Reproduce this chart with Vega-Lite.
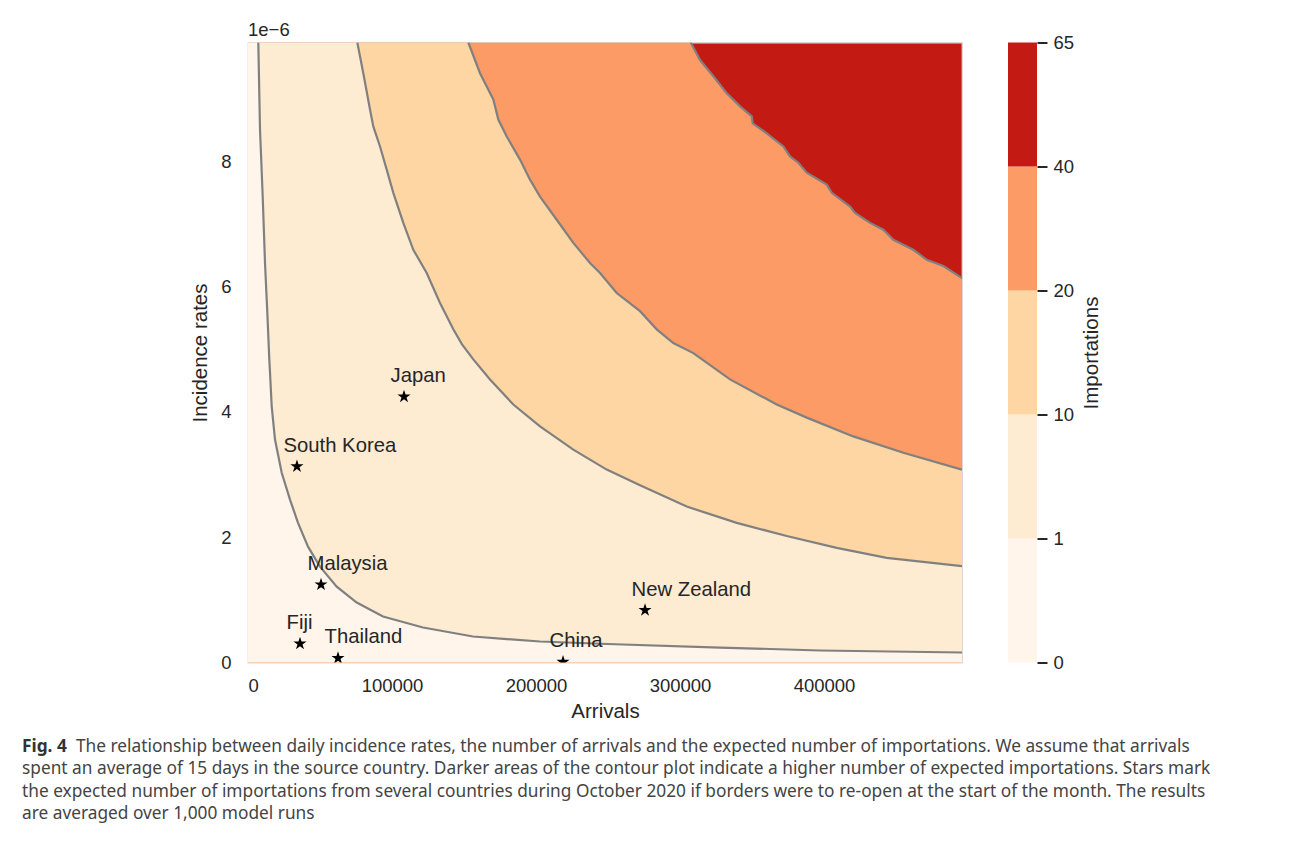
{
  "$schema": "https://vega.github.io/schema/vega-lite/v6.json",
  "padding": {"left": 22, "top": 19.5, "right": 5, "bottom": 5},
  "background": "white",
  "config": {
    "font": "Liberation Sans",
    "view": {"stroke": null},
    "axis": {
      "labelColor": "#262626", "titleColor": "#262626",
      "labelFont": "Liberation Sans", "titleFont": "Liberation Sans",
      "labelFontSize": 18.5, "titleFontSize": 20.5, "titleFontWeight": "normal",
      "grid": false, "domain": false, "ticks": false
    }
  },
  "title": {
    "text": "Fig. 4",
    "subtitle": [
      "spent an average of 15 days in the source country. Darker areas of the contour plot indicate a higher number of expected importations. Stars mark",
      "the expected number of importations from several countries during October 2020 if borders were to re-open at the start of the month. The results",
      "are averaged over 1,000 model runs"
    ],
    "orient": "bottom", "anchor": "start", "frame": "group",
    "font": "Noto Sans", "fontSize": 17.3, "fontWeight": "bold", "color": "#333333",
    "subtitleFont": "Noto Sans", "subtitleFontSize": 17.3, "subtitleFontWeight": "normal", "subtitleColor": "#444444",
    "subtitleLineHeight": 22.5, "subtitlePadding": 5.2, "offset": -17.3, "dx": -226, "limit": 1300
  },
  "datasets": {
    "contours": [
      {"level": 1, "part": "corner", "x": 0, "y": 9.9e-6},
      {"level": 1, "part": "curve", "x": 7150, "y": 9.9e-6},
      {"level": 1, "part": "curve", "x": 8333, "y": 8.51e-6},
      {"level": 1, "part": "curve", "x": 10208, "y": 7.44e-6},
      {"level": 1, "part": "curve", "x": 11806, "y": 6.38e-6},
      {"level": 1, "part": "curve", "x": 13403, "y": 5.59e-6},
      {"level": 1, "part": "curve", "x": 14792, "y": 4.84e-6},
      {"level": 1, "part": "curve", "x": 15278, "y": 4.63e-6},
      {"level": 1, "part": "curve", "x": 16458, "y": 4.09e-6},
      {"level": 1, "part": "curve", "x": 18750, "y": 3.56e-6},
      {"level": 1, "part": "curve", "x": 23403, "y": 3.03e-6},
      {"level": 1, "part": "curve", "x": 29167, "y": 2.60e-6},
      {"level": 1, "part": "curve", "x": 34722, "y": 2.23e-6},
      {"level": 1, "part": "curve", "x": 41667, "y": 1.85e-6},
      {"level": 1, "part": "curve", "x": 50000, "y": 1.53e-6},
      {"level": 1, "part": "curve", "x": 61597, "y": 1.21e-6},
      {"level": 1, "part": "curve", "x": 75486, "y": 0.958e-6},
      {"level": 1, "part": "curve", "x": 93750, "y": 0.734e-6},
      {"level": 1, "part": "curve", "x": 121528, "y": 0.559e-6},
      {"level": 1, "part": "curve", "x": 156250, "y": 0.415e-6},
      {"level": 1, "part": "curve", "x": 202778, "y": 0.335e-6},
      {"level": 1, "part": "curve", "x": 249306, "y": 0.295e-6},
      {"level": 1, "part": "curve", "x": 327778, "y": 0.239e-6},
      {"level": 1, "part": "curve", "x": 397222, "y": 0.192e-6},
      {"level": 1, "part": "curve", "x": 495800, "y": 0.160e-6},

      {"level": 10, "part": "corner", "x": 0, "y": 9.9e-6},
      {"level": 10, "part": "curve", "x": 75903, "y": 9.9e-6},
      {"level": 10, "part": "curve", "x": 80069, "y": 9.41e-6},
      {"level": 10, "part": "curve", "x": 84722, "y": 8.83e-6},
      {"level": 10, "part": "curve", "x": 87014, "y": 8.56e-6},
      {"level": 10, "part": "curve", "x": 91667, "y": 8.24e-6},
      {"level": 10, "part": "curve", "x": 96319, "y": 7.87e-6},
      {"level": 10, "part": "curve", "x": 100903, "y": 7.50e-6},
      {"level": 10, "part": "curve", "x": 107847, "y": 7.02e-6},
      {"level": 10, "part": "curve", "x": 114792, "y": 6.59e-6},
      {"level": 10, "part": "curve", "x": 124097, "y": 6.22e-6},
      {"level": 10, "part": "curve", "x": 133333, "y": 5.74e-6},
      {"level": 10, "part": "curve", "x": 142569, "y": 5.32e-6},
      {"level": 10, "part": "curve", "x": 148611, "y": 5.08e-6},
      {"level": 10, "part": "curve", "x": 156458, "y": 4.84e-6},
      {"level": 10, "part": "curve", "x": 168056, "y": 4.52e-6},
      {"level": 10, "part": "curve", "x": 184236, "y": 4.12e-6},
      {"level": 10, "part": "curve", "x": 202778, "y": 3.77e-6},
      {"level": 10, "part": "curve", "x": 225903, "y": 3.40e-6},
      {"level": 10, "part": "curve", "x": 249097, "y": 3.08e-6},
      {"level": 10, "part": "curve", "x": 272222, "y": 2.83e-6},
      {"level": 10, "part": "curve", "x": 304653, "y": 2.49e-6},
      {"level": 10, "part": "curve", "x": 339375, "y": 2.23e-6},
      {"level": 10, "part": "curve", "x": 374097, "y": 2.02e-6},
      {"level": 10, "part": "curve", "x": 408819, "y": 1.83e-6},
      {"level": 10, "part": "curve", "x": 443542, "y": 1.67e-6},
      {"level": 10, "part": "curve", "x": 495800, "y": 1.54e-6},

      {"level": 20, "part": "corner", "x": 0, "y": 9.9e-6},
      {"level": 20, "part": "curve", "x": 152986, "y": 9.9e-6},
      {"level": 20, "part": "curve", "x": 161111, "y": 9.41e-6},
      {"level": 20, "part": "curve", "x": 170347, "y": 8.99e-6},
      {"level": 20, "part": "curve", "x": 173819, "y": 8.67e-6},
      {"level": 20, "part": "curve", "x": 179653, "y": 8.40e-6},
      {"level": 20, "part": "curve", "x": 188889, "y": 8.03e-6},
      {"level": 20, "part": "curve", "x": 195833, "y": 7.71e-6},
      {"level": 20, "part": "curve", "x": 202778, "y": 7.44e-6},
      {"level": 20, "part": "curve", "x": 214375, "y": 7.07e-6},
      {"level": 20, "part": "curve", "x": 225903, "y": 6.70e-6},
      {"level": 20, "part": "curve", "x": 237500, "y": 6.38e-6},
      {"level": 20, "part": "curve", "x": 244444, "y": 6.22e-6},
      {"level": 20, "part": "curve", "x": 256042, "y": 5.90e-6},
      {"level": 20, "part": "curve", "x": 272222, "y": 5.61e-6},
      {"level": 20, "part": "curve", "x": 283819, "y": 5.32e-6},
      {"level": 20, "part": "curve", "x": 295347, "y": 5.10e-6},
      {"level": 20, "part": "curve", "x": 309236, "y": 4.94e-6},
      {"level": 20, "part": "curve", "x": 334722, "y": 4.52e-6},
      {"level": 20, "part": "curve", "x": 367153, "y": 4.12e-6},
      {"level": 20, "part": "curve", "x": 387986, "y": 3.91e-6},
      {"level": 20, "part": "curve", "x": 420347, "y": 3.61e-6},
      {"level": 20, "part": "curve", "x": 455069, "y": 3.35e-6},
      {"level": 20, "part": "curve", "x": 495800, "y": 3.08e-6},

      {"level": 40, "part": "corner", "x": 0, "y": 9.9e-6},
      {"level": 40, "part": "curve", "x": 307431, "y": 9.9e-6},
      {"level": 40, "part": "curve", "x": 313889, "y": 9.62e-6},
      {"level": 40, "part": "curve", "x": 323125, "y": 9.36e-6},
      {"level": 40, "part": "curve", "x": 332431, "y": 9.09e-6},
      {"level": 40, "part": "curve", "x": 341667, "y": 8.88e-6},
      {"level": 40, "part": "curve", "x": 349792, "y": 8.72e-6},
      {"level": 40, "part": "curve", "x": 350500, "y": 8.61e-6},
      {"level": 40, "part": "curve", "x": 360208, "y": 8.45e-6},
      {"level": 40, "part": "curve", "x": 371736, "y": 8.24e-6},
      {"level": 40, "part": "curve", "x": 376389, "y": 8.08e-6},
      {"level": 40, "part": "curve", "x": 382153, "y": 7.98e-6},
      {"level": 40, "part": "curve", "x": 387986, "y": 7.82e-6},
      {"level": 40, "part": "curve", "x": 401875, "y": 7.63e-6},
      {"level": 40, "part": "curve", "x": 405347, "y": 7.50e-6},
      {"level": 40, "part": "curve", "x": 418056, "y": 7.28e-6},
      {"level": 40, "part": "curve", "x": 421528, "y": 7.18e-6},
      {"level": 40, "part": "curve", "x": 431944, "y": 7.02e-6},
      {"level": 40, "part": "curve", "x": 441181, "y": 6.91e-6},
      {"level": 40, "part": "curve", "x": 448125, "y": 6.75e-6},
      {"level": 40, "part": "curve", "x": 462014, "y": 6.59e-6},
      {"level": 40, "part": "curve", "x": 471319, "y": 6.43e-6},
      {"level": 40, "part": "curve", "x": 482847, "y": 6.33e-6},
      {"level": 40, "part": "curve", "x": 495800, "y": 6.14e-6}
    ],
    "stars": [
      {"country": "Japan", "arrivals": 108333, "incidence": 4.246e-6},
      {"country": "South Korea", "arrivals": 34000, "incidence": 3.13e-6},
      {"country": "Malaysia", "arrivals": 50700, "incidence": 1.245e-6},
      {"country": "Fiji", "arrivals": 36100, "incidence": 0.30e-6},
      {"country": "Thailand", "arrivals": 62500, "incidence": 0.07e-6},
      {"country": "China", "arrivals": 218750, "incidence": 0.01e-6},
      {"country": "New Zealand", "arrivals": 275700, "incidence": 0.835e-6}
    ],
    "bands": [
      {"band": "0–1", "from": 0, "to": 1, "lo": 0, "hi": 1},
      {"band": "1–10", "from": 1, "to": 10, "lo": 1, "hi": 2},
      {"band": "10–20", "from": 10, "to": 20, "lo": 2, "hi": 3},
      {"band": "20–40", "from": 20, "to": 40, "lo": 3, "hi": 4},
      {"band": "40–65", "from": 40, "to": 65, "lo": 4, "hi": 5}
    ]
  },
  "bounds": "flush",
  "spacing": 46,
  "hconcat": [
    {
      "width": 714,
      "height": 620,
      "title": {"text": "1e−6", "anchor": "start", "frame": "group", "orient": "top", "font": "Liberation Sans", "fontSize": 18.5, "fontWeight": "normal", "color": "#262626", "offset": 3},
      "view": {"fill": "#c31a14", "stroke": "#d9d9d9", "strokeWidth": 1.25},
      "layer": [
        {
          "data": {"name": "contours"},
          "transform": [{"filter": "datum.level == 40"}],
          "mark": {"type": "area", "color": "#fc9b65", "opacity": 1, "clip": true},
          "encoding": {
            "x": {"field": "x", "type": "quantitative", "scale": {"domain": [0, 495800], "nice": false, "zero": false},
                  "axis": {"title": "Arrivals", "values": [0, 100000, 200000, 300000, 400000], "format": "d", "labelPadding": 14, "titlePadding": 6}},
            "y": {"field": "y", "type": "quantitative", "scale": {"domain": [0, 9.9e-6], "nice": false, "zero": false},
                  "axis": {"title": "Incidence rates", "values": [0, 2e-6, 4e-6, 6e-6, 8e-6], "labelExpr": "format(datum.value * 1e6, '.0f')", "labelPadding": 17, "titlePadding": 10}},
            "y2": {"datum": 0}
          }
        },
        {
          "data": {"name": "contours"},
          "transform": [{"filter": "datum.level == 20"}],
          "mark": {"type": "area", "color": "#fdd6a4", "opacity": 1, "clip": true},
          "encoding": {
            "x": {"field": "x", "type": "quantitative"},
            "y": {"field": "y", "type": "quantitative"},
            "y2": {"datum": 0}
          }
        },
        {
          "data": {"name": "contours"},
          "transform": [{"filter": "datum.level == 10"}],
          "mark": {"type": "area", "color": "#fdebd2", "opacity": 1, "clip": true},
          "encoding": {
            "x": {"field": "x", "type": "quantitative"},
            "y": {"field": "y", "type": "quantitative"},
            "y2": {"datum": 0}
          }
        },
        {
          "data": {"name": "contours"},
          "transform": [{"filter": "datum.level == 1"}],
          "mark": {"type": "area", "color": "#fff5eb", "opacity": 1, "clip": true},
          "encoding": {
            "x": {"field": "x", "type": "quantitative"},
            "y": {"field": "y", "type": "quantitative"},
            "y2": {"datum": 0}
          }
        },
        {
          "data": {"name": "contours"},
          "transform": [{"filter": "datum.part == 'curve'"}],
          "mark": {"type": "line", "color": "#808080", "strokeWidth": 2.2, "clip": true},
          "encoding": {
            "x": {"field": "x", "type": "quantitative"},
            "y": {"field": "y", "type": "quantitative"},
            "detail": {"field": "level", "type": "nominal"}
          }
        },
        {
          "data": {"name": "stars"},
          "mark": {"type": "point", "shape": "M0,-1L0.2245,-0.309L0.9511,-0.309L0.3633,0.118L0.5878,0.809L0,0.382L-0.5878,0.809L-0.3633,0.118L-0.9511,-0.309L-0.2245,-0.309Z", "filled": true, "color": "black", "opacity": 1, "size": 190, "strokeWidth": 0, "clip": true},
          "encoding": {
            "x": {"field": "arrivals", "type": "quantitative"},
            "y": {"field": "incidence", "type": "quantitative"}
          }
        },
        {
          "data": {"name": "stars"},
          "mark": {"type": "text", "align": "left", "baseline": "alphabetic", "dx": -13.5, "dy": -14.7, "font": "Liberation Sans", "fontSize": 20.3, "color": "#262626"},
          "encoding": {
            "x": {"field": "arrivals", "type": "quantitative"},
            "y": {"field": "incidence", "type": "quantitative"},
            "text": {"field": "country", "type": "nominal"}
          }
        }
      ]
    },
    {
      "width": 29,
      "height": 620,
      "title": {
        "text": "The relationship between daily incidence rates, the number of arrivals and the expected number of importations. We assume that arrivals",
        "orient": "bottom", "anchor": "start", "frame": "group",
        "font": "Noto Sans", "fontSize": 17.3, "fontWeight": "normal", "color": "#444444",
        "offset": 65.5, "dx": -932, "limit": 1300
      },
      "data": {"name": "bands"},
      "mark": {"type": "rect"},
      "encoding": {
        "y": {"field": "lo", "type": "quantitative", "scale": {"domain": [0, 5], "nice": false},
              "axis": {"orient": "right", "values": [0, 1, 2, 3, 4, 5], "labelExpr": "['0','1','10','20','40','65'][datum.value]",
                       "ticks": true, "tickSize": 10, "tickWidth": 2, "tickColor": "#262626", "labelPadding": 6,
                       "title": "Importations", "titleAngle": 270, "titleBaseline": "top", "titlePadding": 8}},
        "y2": {"field": "hi"},
        "color": {"field": "band", "type": "nominal",
                  "scale": {"domain": ["0–1", "1–10", "10–20", "20–40", "40–65"], "range": ["#fff5eb", "#fdebd2", "#fdd6a4", "#fc9b65", "#c31a14"]},
                  "legend": null}
      }
    }
  ]
}
